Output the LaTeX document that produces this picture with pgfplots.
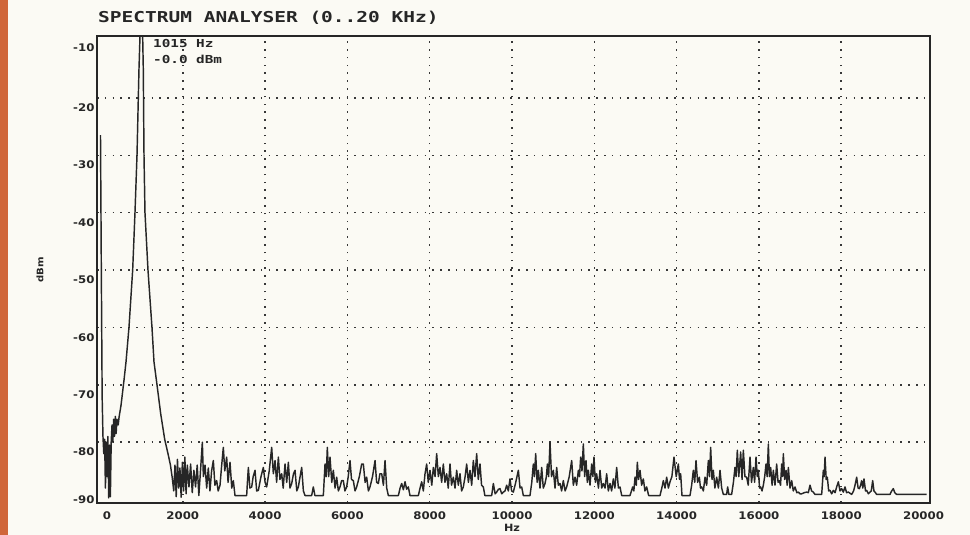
\documentclass[border=0pt]{standalone}
\usepackage{pgfplots}
\pgfplotsset{compat=1.18}
\usepackage{fontspec}
\setmainfont{DejaVu Sans}
\newfontfamily\monofont[FakeStretch=1.3]{DejaVu Sans Mono Bold}
\newfontfamily\tickfont[FakeStretch=1.12]{DejaVu Sans Bold}
\definecolor{bgcol}{RGB}{251,250,244}
\definecolor{orangecol}{RGB}{208,102,58}
\definecolor{inkcol}{RGB}{38,38,38}
\definecolor{gridcol}{RGB}{55,55,55}
\begin{document}
\begin{tikzpicture}[x=1pt,y=1pt]
\useasboundingbox (0,0) rectangle (970,535);
\fill[bgcol] (0,0) rectangle (970,535);
\fill[orangecol] (0,0) rectangle (8,535);
\begin{axis}[
  at={(97pt,32pt)}, anchor=south west,
  scale only axis, width=833pt, height=467pt,
  xmin=-85, xmax=20157, ymin=-90.6, ymax=-9.2,
  scaled x ticks=false, scaled y ticks=false,
  axis line style={inkcol, line width=2pt},
  xtick={2000,4000,...,18000}, ytick={-80,-70,...,-20},
  xticklabels={}, yticklabels={},
  major tick length=0pt,
  grid=major,
  major grid style={gridcol, line width=1.5pt, dash pattern=on 1.5pt off 6.3pt},
  extra x ticks={158,2000,4000,6000,8000,10000,12000,14000,16000,18000,20000},
  extra x tick labels={0,2000,4000,6000,8000,10000,12000,14000,16000,18000,20000},
  extra y ticks={-11.3,-21.7,-31.7,-41.7,-51.7,-61.7,-71.7,-81.7,-90.1},
  extra y tick labels={-10,-20,-30,-40,-50,-60,-70,-80,-90},
  extra tick style={grid=none, major tick length=0pt},
  xticklabel style={font=\tickfont\fontsize{10.5}{10.5}\selectfont, text=inkcol, anchor=north, yshift=-5pt},
  yticklabel style={font=\tickfont\fontsize{10.5}{10.5}\selectfont, text=inkcol, anchor=east, xshift=1pt},
  clip=true,
]
\addplot[inkcol, line width=1.45pt, line join=round] table {
f db
0 -26.5
20 -50
40 -72
60 -79
80 -82
100 -79.5
120 -88
140 -80
160 -86
180 -79
200 -89.7
220 -80.5
240 -89.5
260 -80
280 -77
300 -80
320 -76
340 -79
360 -75.5
380 -78.5
400 -76
430 -77
450 -75.7
500 -73.5
571 -69.2
620 -66
692 -60
782 -50
838 -40
887 -30
935 -15
1000 0
1040 -15
1057 -30
1081 -40
1154 -50
1251 -60
1300 -66
1373 -70
1462 -75
1560 -79.5
1640 -82
1700 -84
1740 -86
1780 -88.5
1810 -84
1840 -89.5
1870 -83
1900 -88
1930 -84.5
1960 -89.6
1990 -83.5
2020 -88.5
2050 -82.6
2080 -89
2110 -84
2150 -87.8
2190 -83.8
2230 -88.8
2270 -84.9
2310 -87.8
2350 -84
2390 -89.3
2430 -85
2475 -80.0
2500 -86
2540 -84
2580 -88
2620 -84.5
2660 -88.5
2700 -85
2742 -83.2
2780 -87.5
2823 -86.7
2860 -88.5
2904 -87.5
2945 -84
2985 -80.9
3020 -85
3066 -82.6
3100 -87
3147 -83.5
3190 -88
3228 -86.7
3268 -89.3
3552 -89.3
3570 -87
3593 -84.4
3630 -88
3674 -87.8
3710 -86
3755 -84.9
3795 -88.5
3836 -88.4
3900 -86
3957 -84.4
4000 -87
4038 -87.8
4100 -85
4160 -80.9
4200 -85.5
4241 -83.2
4280 -87
4322 -82.6
4360 -86.5
4403 -85.5
4440 -88
4484 -83.8
4525 -87
4565 -83.5
4605 -88
4646 -87.2
4690 -85.5
4727 -84.9
4770 -88.5
4808 -87.8
4850 -86
4889 -84.4
4930 -88.5
4970 -89.3
5131 -89.3
5172 -87.8
5210 -89.3
5415 -89.3
5456 -83.8
5485 -86
5512 -80.9
5545 -86
5577 -82.6
5620 -87
5658 -84.9
5700 -88
5739 -86.1
5780 -88.5
5820 -87.8
5860 -86.7
5901 -86.7
5940 -88.5
5982 -87.8
6020 -86
6063 -83.2
6100 -86.5
6144 -86.7
6185 -88.5
6225 -87.8
6290 -86
6347 -83.8
6387 -83.8
6430 -87
6468 -86.1
6510 -88.5
6549 -87.8
6610 -86
6671 -83.2
6710 -87
6752 -87.2
6790 -85.5
6833 -85.5
6875 -87.5
6914 -83.2
6955 -88
6995 -89.3
7238 -89.3
7280 -88
7319 -87.2
7360 -88.3
7400 -86.9
7440 -88.2
7481 -87.8
7520 -89.3
7724 -89.3
7765 -88
7805 -86.9
7845 -88.5
7886 -85.5
7926 -83.8
7965 -87
8007 -84.9
8050 -87.5
8088 -84.4
8130 -86
8169 -82.0
8210 -86
8250 -84.4
8290 -87
8331 -83.8
8370 -87
8412 -85.5
8450 -88
8493 -83.8
8530 -87.5
8574 -86.1
8615 -88
8655 -84.9
8695 -87.5
8736 -85.5
8775 -88.5
8817 -87.8
8860 -86
8898 -83.8
8940 -87
8979 -84.9
9020 -87.5
9060 -83.2
9100 -86
9141 -82.0
9180 -86.5
9222 -83.8
9260 -87.5
9303 -87.8
9340 -89.3
9506 -89.3
9546 -87.2
9590 -89
9627 -88.7
9670 -88.2
9708 -88.1
9750 -89
9789 -88.7
9830 -88.5
9870 -87.5
9910 -88.5
9951 -86.4
9990 -88.5
10032 -88.7
10090 -87
10154 -84.9
10195 -88
10235 -87.8
10275 -89.3
10437 -89.3
10480 -87
10518 -83.8
10545 -86
10575 -82.0
10610 -87
10640 -84.9
10680 -88
10721 -84.4
10760 -88
10802 -87.2
10835 -86
10859 -83.8
10890 -86
10923 -80.0
10960 -86
11004 -84.9
11045 -88
11085 -84.4
11125 -87.5
11166 -87.2
11205 -88.5
11247 -86.7
11290 -88.5
11328 -87.8
11390 -86
11450 -83.2
11490 -87.5
11531 -86.1
11570 -87.5
11612 -84.9
11640 -86
11668 -82.6
11700 -85
11733 -80.3
11765 -86
11798 -83.2
11830 -87
11855 -84.9
11895 -87.5
11936 -83.8
11965 -86
11992 -82.6
12025 -87
12057 -85.5
12100 -88
12138 -84.9
12180 -88
12219 -87.2
12260 -88
12300 -85.5
12340 -88.5
12381 -87.2
12420 -88.5
12462 -86.4
12500 -88
12543 -84.4
12585 -88
12624 -87.8
12665 -89.3
12867 -89.3
12932 -87.8
12960 -88.5
12989 -86.1
13020 -87.5
13045 -83.5
13075 -86.5
13110 -84.9
13150 -87.5
13191 -86.4
13230 -88.5
13272 -87.8
13320 -89.3
13596 -89.3
13640 -88
13677 -86.7
13718 -88
13758 -86.1
13800 -88
13839 -86.9
13885 -86
13936 -82.6
13990 -86
14042 -83.8
14070 -86.5
14098 -85.5
14130 -89.3
14325 -89.3
14365 -87.5
14406 -84.9
14440 -87
14471 -83.2
14510 -87
14552 -86.1
14580 -88
14609 -87.8
14650 -88.5
14690 -86.1
14730 -87.5
14771 -83.2
14800 -86
14827 -80.9
14860 -86.5
14892 -84.9
14930 -88
14973 -86.1
15015 -88
15054 -84.9
15095 -88
15135 -89.1
15215 -89.1
15240 -87.8
15270 -89.1
15337 -89.1
15380 -87
15418 -84.4
15445 -86
15475 -81.4
15510 -86
15556 -81.7
15590 -86.5
15621 -81.4
15660 -86
15702 -86.1
15740 -87.5
15783 -82.6
15820 -87
15864 -84.4
15895 -87
15929 -82.6
15960 -86
15986 -84.9
16015 -88
16042 -87.8
16075 -88.5
16107 -87.5
16140 -86
16172 -83.8
16200 -86
16229 -80.3
16255 -86
16285 -84.4
16320 -87.5
16350 -84.9
16390 -87.5
16431 -83.8
16465 -87
16496 -86.7
16525 -87.5
16553 -83.8
16575 -86
16593 -82.0
16625 -86.5
16658 -84.9
16685 -87.5
16715 -84.4
16755 -88
16796 -86.7
16835 -88.5
16877 -87.8
16920 -88.8
16958 -88.7
17000 -89
17039 -89.0
17100 -88.8
17160 -88.7
17200 -88.8
17241 -87.5
17280 -88.5
17322 -88.7
17360 -89.1
17525 -89.1
17565 -84.9
17585 -86
17606 -82.6
17635 -86.5
17662 -86.1
17695 -88.5
17727 -88.4
17768 -89
17808 -88.4
17850 -88.8
17889 -87.8
17930 -86.9
17970 -88.5
18011 -88.1
18050 -88.7
18092 -87.8
18130 -88.8
18173 -88.7
18254 -89.1
18300 -88.5
18335 -87.5
18375 -86.1
18410 -88
18440 -88.1
18470 -87.5
18497 -86.7
18525 -88
18553 -86.4
18590 -88.5
18618 -88.4
18660 -89
18699 -88.7
18730 -88.5
18764 -86.7
18795 -88.5
18821 -88.7
18860 -89.1
19185 -89.1
19225 -88.5
19266 -88.1
19300 -88.8
19347 -89.1
20076 -89.1
};
\end{axis}
\node[anchor=west, inner sep=0pt, text=inkcol, font=\monofont\fontsize{15}{15}\selectfont] at (98,517) {SPECTRUM ANALYSER (0..20 KHz)};
\node[anchor=west, inner sep=0pt, text=inkcol, font=\monofont\fontsize{11}{11}\selectfont] at (153,491) {1015 Hz};
\node[anchor=west, inner sep=0pt, text=inkcol, font=\monofont\fontsize{11}{11}\selectfont] at (153,476) {-0.0 dBm};
\node[rotate=90, inner sep=0pt, text=inkcol, font=\tickfont\fontsize{9}{9}\selectfont] at (40,265) {dBm};
\node[inner sep=0pt, text=inkcol, font=\tickfont\fontsize{10}{10}\selectfont] at (512,7) {Hz};
\end{tikzpicture}
\end{document}
